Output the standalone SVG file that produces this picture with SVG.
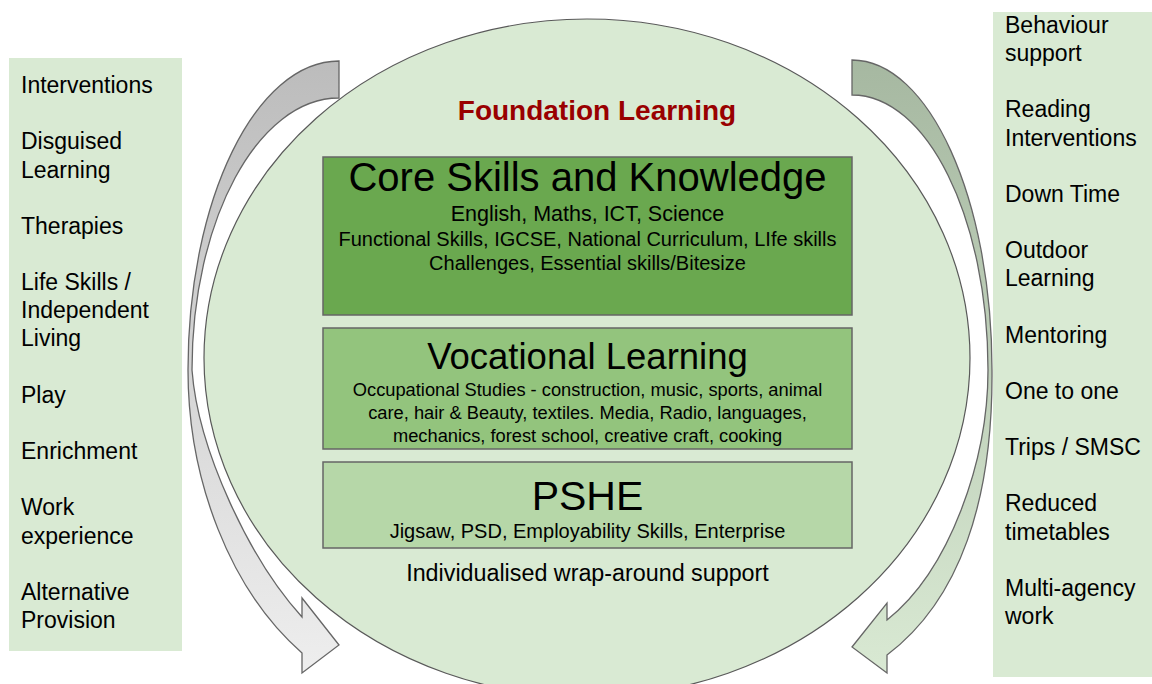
<svg xmlns="http://www.w3.org/2000/svg" width="1152" height="684" viewBox="0 0 1152 684">
<style>
text{font-family:"Liberation Sans",Arial,sans-serif;fill:#000}
.side{font-size:23px}
.box{stroke:#666666;stroke-width:1.5}
.arrow{stroke:#666666;stroke-width:1.3;stroke-linejoin:miter}
.mid{text-anchor:middle}
</style>
<defs>
<linearGradient id="gl" x1="0" y1="0" x2="0" y2="1">
<stop offset="0" stop-color="#bcbcbc"/>
<stop offset="1" stop-color="#eeeeee"/>
</linearGradient>
<linearGradient id="gr" x1="0" y1="0" x2="0" y2="1">
<stop offset="0" stop-color="#a6b8a1"/>
<stop offset="1" stop-color="#d9e9d3"/>
</linearGradient>
</defs>
<rect width="1152" height="684" fill="#ffffff"/>

<g id="left-panel">
<rect x="9" y="58" width="173" height="593" fill="#d9ead3"/>
<text class="side" x="21" y="93">Interventions</text>
<text class="side" x="21" y="149.3">Disguised</text>
<text class="side" x="21" y="177.5">Learning</text>
<text class="side" x="21" y="233.8">Therapies</text>
<text class="side" x="21" y="290.1">Life Skills /</text>
<text class="side" x="21" y="318.3">Independent</text>
<text class="side" x="21" y="346.4">Living</text>
<text class="side" x="21" y="402.8">Play</text>
<text class="side" x="21" y="459.1">Enrichment</text>
<text class="side" x="21" y="515.4">Work</text>
<text class="side" x="21" y="543.6">experience</text>
<text class="side" x="21" y="599.9">Alternative</text>
<text class="side" x="21" y="628">Provision</text>
</g>

<g id="right-panel">
<rect x="993" y="12" width="159" height="665" fill="#d9ead3"/>
<text class="side" x="1005" y="33">Behaviour</text>
<text class="side" x="1005" y="61.1">support</text>
<text class="side" x="1005" y="117.4">Reading</text>
<text class="side" x="1005" y="145.6">Interventions</text>
<text class="side" x="1005" y="201.8">Down Time</text>
<text class="side" x="1005" y="258.1">Outdoor</text>
<text class="side" x="1005" y="286.3">Learning</text>
<text class="side" x="1005" y="342.5">Mentoring</text>
<text class="side" x="1005" y="398.8">One to one</text>
<text class="side" x="1005" y="455.1">Trips / SMSC</text>
<text class="side" x="1005" y="511.4">Reduced</text>
<text class="side" x="1005" y="539.5">timetables</text>
<text class="side" x="1005" y="595.8">Multi-agency</text>
<text class="side" x="1005" y="624">work</text>
</g>

<g id="connectors">
<path class="arrow" fill="url(#gl)" d="M339,61 C256,61 188,199 188,370 C188,480 230,590 302,653 L302,673 L339,645 L302,598 L302,617 C250,560 198,450 192,370 C192,220 258,98 339,98 Z"/>
<path class="arrow" fill="url(#gr)" d="M852,60 C929,60 992,199 992,370 C993,500 960,600 887,655 L887,673 L852,647 L887,603 L887,620 C950,570 988,460 988,370 C988,218 927,95 852,95 Z"/>
</g>

<g id="foundation">
<ellipse cx="587" cy="358" rx="383" ry="339" fill="#d9ead3" stroke="#595959" stroke-width="1.2"/>
<text class="mid" x="597" y="120" font-size="28" font-weight="bold" style="fill:#990000">Foundation Learning</text>
<text class="mid" x="587.5" y="581" font-size="23.3">Individualised wrap-around support</text>
</g>

<g id="core">
<rect class="box" x="323" y="157" width="529" height="158" fill="#6aa84f"/>
<text class="mid" x="587.5" y="191" font-size="40">Core Skills and Knowledge</text>
<text class="mid" x="587.5" y="221" font-size="21.5">English, Maths, ICT, Science</text>
<text class="mid" x="587.5" y="246" font-size="20">Functional Skills, IGCSE, National Curriculum, LIfe skills</text>
<text class="mid" x="587.5" y="269.5" font-size="20">Challenges, Essential skills/Bitesize</text>
</g>

<g id="vocational">
<rect class="box" x="323" y="328" width="529" height="121" fill="#93c47d"/>
<text class="mid" x="587.5" y="369" font-size="36.5">Vocational Learning</text>
<text class="mid" x="587.5" y="396" font-size="18.3">Occupational Studies - construction, music, sports, animal</text>
<text class="mid" x="587.5" y="419" font-size="18.3">care, hair &amp; Beauty, textiles. Media, Radio, languages,</text>
<text class="mid" x="587.5" y="441.5" font-size="18.3">mechanics, forest school, creative craft, cooking</text>
</g>

<g id="pshe">
<rect class="box" x="323" y="462" width="529" height="86" fill="#b6d7a8"/>
<text class="mid" x="587.5" y="510" font-size="41">PSHE</text>
<text class="mid" x="587.5" y="538" font-size="20">Jigsaw, PSD, Employability Skills, Enterprise</text>
</g>
</svg>
